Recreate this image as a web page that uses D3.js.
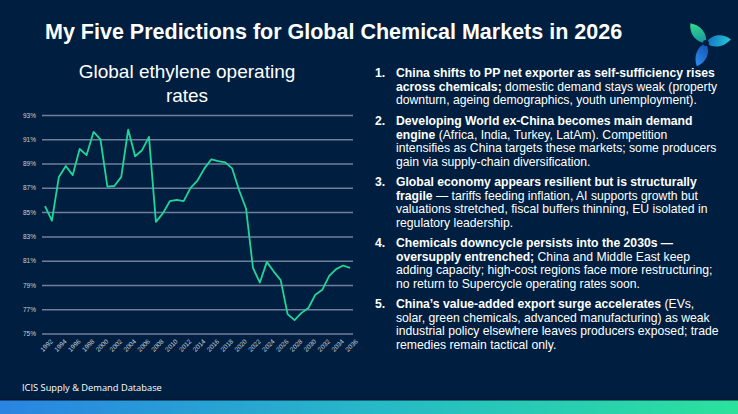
<!DOCTYPE html>
<html>
<head>
<meta charset="utf-8">
<script src="https://cdn.jsdelivr.net/npm/d3@7"></script>
<style>
  html, body { margin: 0; padding: 0; background: #001f40; }
  svg { display: block; font-family: "Liberation Sans", Arial, sans-serif; }
</style>
</head>
<body>
<svg id="chart"></svg>
<script>
// data: global ethylene operating rates (%), 1992-2036
const years = d3.range(1992, 2037);
const rates = [
  85.5, 84.3, 87.9, 88.8, 88.05, 90.2, 89.7, 91.6, 91.0, 87.1,
  87.15, 87.9, 91.8, 89.6, 90.1, 91.2, 84.2, 84.9, 85.9, 86.0,
  85.9, 87.0, 87.6, 88.6, 89.35, 89.2, 89.1, 88.6, 86.8, 85.3,
  80.4, 79.2, 80.9, 80.1, 79.4, 76.6, 76.1, 76.7, 77.1, 78.2,
  78.6, 79.75, 80.3, 80.6, 80.4
];
const yTicks = [75, 77, 79, 81, 83, 85, 87, 89, 91, 93];
const xTicks = d3.range(1992, 2037, 2);

// prediction list text (bold part, then regular part, line by line)
const predictions = [
  [[["China shifts to PP net exporter as self-sufficiency rises", ""]],
   [["across chemicals;", " domestic demand stays weak (property"]],
   [["", "downturn, ageing demographics, youth unemployment)."]]],
  [[["Developing World ex-China becomes main demand", ""]],
   [["engine", " (Africa, India, Turkey, LatAm). Competition"]],
   [["", "intensifies as China targets these markets; some producers"]],
   [["", "gain via supply-chain diversification."]]],
  [[["Global economy appears resilient but is structurally", ""]],
   [["fragile", " \u2014 tariffs feeding inflation, AI supports growth but"]],
   [["", "valuations stretched, fiscal buffers thinning, EU isolated in"]],
   [["", "regulatory leadership."]]],
  [[["Chemicals downcycle persists into the 2030s \u2014", ""]],
   [["oversupply entrenched;", " China and Middle East keep"]],
   [["", "adding capacity; high-cost regions face more restructuring;"]],
   [["", "no return to Supercycle operating rates soon."]]],
  [[["China\u2019s value-added export surge accelerates", " (EVs,"]],
   [["", "solar, green chemicals, advanced manufacturing) as weak"]],
   [["", "industrial policy elsewhere leaves producers exposed; trade"]],
   [["", "remedies remain tactical only."]]]
];

const width = 738, height = 414;
const svg = d3.select("#chart").attr("width", width).attr("height", height);

// gradients
const defs = svg.append("defs");
const footGrad = defs.append("linearGradient").attr("id", "footGrad");
footGrad.append("stop").attr("offset", "0%").attr("stop-color", "#2a84e2");
footGrad.append("stop").attr("offset", "50%").attr("stop-color", "#26b8c8");
footGrad.append("stop").attr("offset", "100%").attr("stop-color", "#2ae29c");

const petalColors = [["#2ee08a", "#1a8fa0"], ["#22c8d8", "#1470c0"], ["#2a8ff0", "#1450b0"]];
petalColors.forEach((c, i) => {
  const g = defs.append("linearGradient").attr("id", "petal" + i)
    .attr("x1", "0").attr("y1", "1").attr("x2", "0").attr("y2", "0");
  g.append("stop").attr("offset", "0%").attr("stop-color", c[1]);
  g.append("stop").attr("offset", "100%").attr("stop-color", c[0]);
});

svg.append("rect").attr("width", width).attr("height", height).attr("fill", "#001f40");

// bottom band
svg.append("rect").attr("x", 0).attr("y", 399.5).attr("width", width).attr("height", 1)
  .attr("fill", "#000a1a");
svg.append("rect").attr("x", 0).attr("y", 400.5).attr("width", width).attr("height", 14)
  .attr("fill", "url(#footGrad)");

// main title
svg.append("text")
  .attr("x", 45).attr("y", 39)
  .attr("fill", "#fff")
  .attr("font-size", 21.5)
  .attr("font-weight", "bold")
  .text("My Five Predictions for Global Chemical Markets in 2026");

// logo
const logo = svg.append("g").attr("transform", "translate(706,43) rotate(-15)");
[0, 1, 2].forEach(i => {
  logo.append("path")
    .attr("d", "M0,0 C-10,-3 -14,-13 -10,-23 C-1,-19 4,-9 0,0 Z")
    .attr("fill", `url(#petal${i})`)
    .attr("transform", `rotate(${i * 120})`);
});
logo.append("circle").attr("r", 3).attr("fill", "#001f40");

// chart title
svg.append("text")
  .attr("x", 187).attr("y", 78)
  .attr("text-anchor", "middle")
  .attr("fill", "#fff")
  .attr("font-size", 19)
  .selectAll("tspan")
  .data(["Global ethylene operating", "rates"])
  .join("tspan")
  .attr("x", 187)
  .attr("dy", (d, i) => i === 0 ? 0 : 24)
  .text(d => d);

// scales
const x = d3.scaleLinear().domain([1992, 2036]).range([45, 350]);
const y = d3.scaleLinear().domain([75, 93]).range([333.5, 115]);

// y grid + labels
const yAxis = svg.append("g")
  .attr("transform", "translate(42,0)")
  .call(d3.axisLeft(y).tickValues(yTicks).tickSize(-311).tickFormat(d => d + "%"));
yAxis.select(".domain").remove();
yAxis.selectAll(".tick line").attr("stroke", "#6f7f9a").attr("stroke-width", 1.5);
yAxis.selectAll(".tick text")
  .attr("x", -6)
  .attr("fill", "#c9d0da")
  .attr("font-size", 6.5)
  .attr("font-family", "Liberation Sans, Arial, sans-serif");

// x labels
const xAxis = svg.append("g")
  .attr("transform", "translate(0,337)")
  .call(d3.axisBottom(x).tickValues(xTicks).tickSize(0).tickFormat(d3.format("d")));
xAxis.select(".domain").remove();
xAxis.selectAll(".tick text")
  .attr("fill", "#c9d0da")
  .attr("font-size", 6.5)
  .attr("font-family", "Liberation Sans, Arial, sans-serif")
  .attr("text-anchor", "end")
  .attr("dx", 2)
  .attr("dy", 6)
  .attr("transform", "rotate(-45)");

// the line
const line = d3.line().x((d, i) => x(years[i])).y(d => y(d));
svg.append("path")
  .datum(rates)
  .attr("fill", "none")
  .attr("stroke", "#1fd69a")
  .attr("stroke-width", 1.8)
  .attr("stroke-linejoin", "round")
  .attr("d", line);

// predictions list
const listTop = [77, 125, 186, 247, 308];
const lineH = 13.5;
predictions.forEach((item, k) => {
  svg.append("text")
    .attr("x", 375).attr("y", listTop[k])
    .attr("fill", "#fff").attr("font-size", 12.2).attr("font-weight", "bold")
    .text((k + 1) + ".");
  item.forEach((ln, j) => {
    const t = svg.append("text")
      .attr("x", 396).attr("y", listTop[k] + j * lineH)
      .attr("fill", "#fff").attr("font-size", 12.2);
    ln.forEach(seg => {
      if (seg[0]) t.append("tspan").attr("font-weight", "bold").text(seg[0]);
      if (seg[1]) t.append("tspan").attr("font-weight", "normal").text(seg[1]);
    });
  });
});

// source
svg.append("text")
  .attr("x", 22).attr("y", 391)
  .attr("fill", "#fff")
  .attr("font-size", 9.3)
  .attr("font-family", "Open Sans, Liberation Sans, sans-serif")
  .text("ICIS Supply & Demand Database");
</script>
</body>
</html>
